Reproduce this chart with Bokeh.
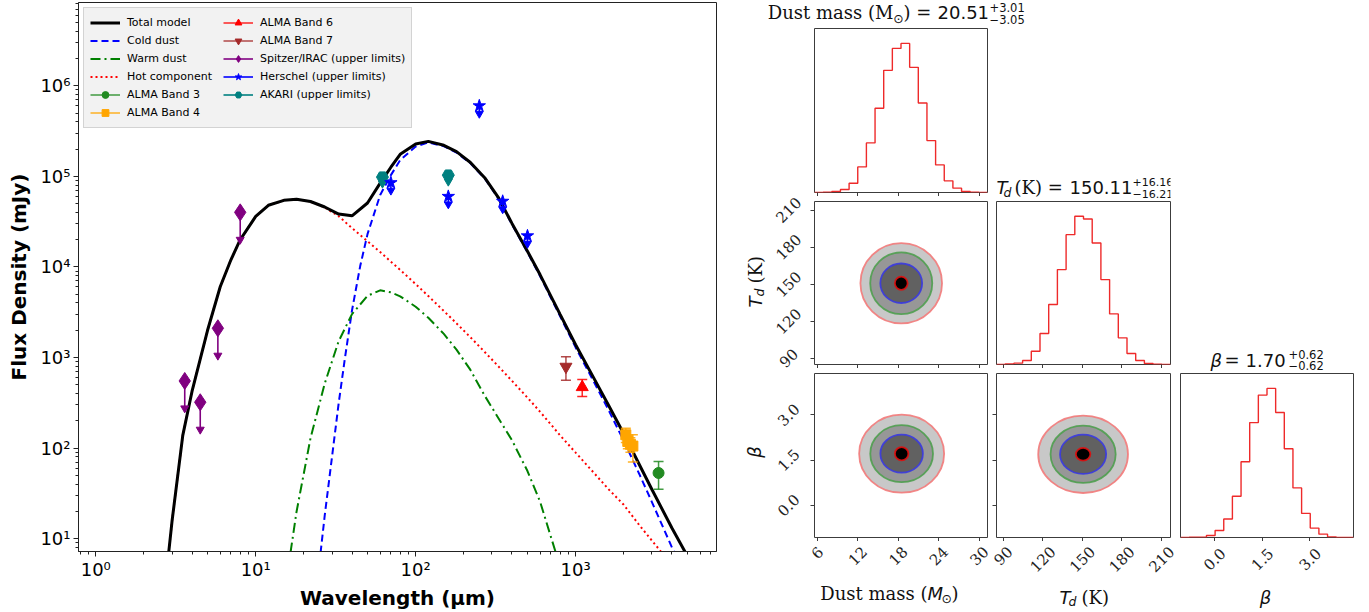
import math
import numpy as np
from bokeh.plotting import figure
from bokeh.models import (Range1d, FixedTicker, CustomJSTickFormatter, Legend, LegendItem,
                          Label, LabelSet, ColumnDataSource)
from bokeh.layouts import row, column
from bokeh.embed import file_html
from bokeh.resources import INLINE
from bokeh.core.properties import value

# ---------------- SED model curves ----------------
model_wavelength = [2.8, 3, 3.5, 4, 5, 6, 7, 8, 10, 12, 15, 18, 22, 27, 33, 40, 50, 60, 70, 80,
                    100, 120, 150, 180, 220, 270, 330, 400, 500, 600, 800, 1000, 1300, 1600,
                    2000, 2500, 3000, 4000, 5000]
total_model = [5.0, 15.7, 138, 424, 1995, 6030, 11970, 19950, 36100, 47900, 54300, 55900, 52700,
               45800, 38300, 36600, 50700, 84100, 126000, 175000, 227000, 243000, 220000, 187000,
               142000, 96600, 57700, 30200, 14900, 8170, 2990, 1380, 591, 301, 144, 65.8, 34.8,
               13.1, 6.4]

cold_wavelength = [25, 27, 30, 33, 36, 40, 45, 50, 60, 70, 80, 100, 120, 150, 180, 220, 270, 330,
                   400, 500, 600, 800, 1000, 1300, 1600, 2000, 2500, 3000, 4000, 5000]
cold_dust = [5.3, 17.9, 80, 310, 942, 3310, 10200, 23000, 62200, 103000, 151000, 213000, 237000,
             215000, 183000, 139500, 94900, 56600, 29470, 14460, 7890, 2850, 1290, 538, 266, 120,
             51.7, 25.3, 8.0, 3.4]

warm_wavelength = [16.5, 18, 22, 27, 33, 40, 50, 60, 70, 80, 100, 120, 150, 180, 220, 270, 330,
                   400, 500, 600, 700, 800]
warm_dust = [7.0, 19.8, 128, 514, 1510, 3010, 4790, 5510, 5240, 4730, 3630, 2740, 1820, 1220, 728,
             379, 212, 122, 55.7, 25.5, 10.5, 4.9]

hot_wavelength = [2.8, 3, 3.5, 4, 5, 6, 7, 8, 10, 12, 15, 18, 22, 27, 33, 40, 50, 60, 70, 80,
                  100, 120, 150, 180, 220, 270, 330, 400, 500, 600, 800, 1000, 1300, 1600, 2000,
                  2500, 3000, 4000]
hot_component = [5.0, 15.7, 138, 424, 1995, 6030, 11970, 19950, 36100, 47900, 54300, 55900, 52700,
                 45200, 36300, 26800, 19200, 14600, 11400, 9270, 6460, 4760, 3260, 2380, 1670,
                 1150, 793, 552, 360, 251, 138, 89, 53.3, 35.3, 23.6, 14.1, 9.5, 5.1]

# ---------------- photometry ----------------
alma_b3_wl = [3300]
alma_b3_flux = [53]
alma_b3_err = [18]
alma_b4_wl = [2060, 2120, 2200, 2280]
alma_b4_flux = [140, 118, 110, 105]
alma_b4_err = [25, 20, 20, 35]
alma_b6_wl = [1100]
alma_b6_flux = [470]
alma_b6_err = [100]
alma_b7_wl = [870]
alma_b7_flux = [790]
alma_b7_err = [230]
spitzer_wl = [3.6, 4.5, 5.8, 8.0]
spitzer_flux = [550, 320, 2100, 40000]
herschel_wl = [70, 160, 250, 350, 500]
herschel_flux = [85000, 60000, 600000, 53000, 22000]
akari_wl = [62, 160]
akari_flux = [98000, 103000]

# ---------------- corner plot data ----------------
mass_range = [5.6, 31.25]
td_range = [84.9, 216.9]
beta_range = [-1.07, 4.37]
mass_counts = [0, 1, 3, 9, 28, 77, 149, 253, 367, 433, 448, 376, 269, 156, 83, 35, 13, 3, 1, 0]
td_counts = [0, 2, 4, 12, 40, 93, 180, 285, 390, 445, 437, 365, 255, 152, 80, 33, 12, 3, 1, 0]
beta_counts = [0, 1, 1, 6, 21, 55, 123, 226, 343, 425, 445, 373, 265, 148, 72, 28, 10, 2, 0, 0]
mass_ticks = [6, 12, 18, 24, 30]
td_ticks = [90, 120, 150, 180, 210]
beta_ticks = [0.0, 1.5, 3.0]
mass_tick_labels = ["6", "12", "18", "24", "30"]
td_tick_labels = ["90", "120", "150", "180", "210"]
beta_tick_labels = ["0.0", "1.5", "3.0"]

mass_td_center = [18.46, 150.7]
mass_td_widths = [12.1, 9.2, 6.2, 1.9]
mass_td_heights = [65, 50, 32, 10.7]
mass_beta_center = [18.52, 1.71]
mass_beta_widths = [12.6, 9.3, 6.3, 2.0]
mass_beta_heights = [2.59, 1.89, 1.26, 0.44]
td_beta_center = [150.6, 1.69]
td_beta_widths = [68.1, 49.4, 35.0, 11.0]
td_beta_heights = [2.57, 1.90, 1.30, 0.42]
level_fill = ["#c8c8c8", "#979797", "#616161", "#000000"]
level_line = ["#f27a7a", "#4f9f4f", "#3a3ae0", "#e01010"]

# ======================= SED figure =======================
p = figure(width=725, height=612, x_axis_type="log", y_axis_type="log",
           x_range=Range1d(0.78, 7600), y_range=Range1d(7.2, 8.3e6),
           output_backend="svg", toolbar_location=None,
           min_border_left=78, min_border_right=9, min_border_top=2, min_border_bottom=57)
p.grid.visible = False
p.outline_line_color = "#222222"
p.background_fill_color = "white"
p.border_fill_color = "white"

sup_fmt = CustomJSTickFormatter(code="""
const sup = {"0":"\u2070","1":"\u00b9","2":"\u00b2","3":"\u00b3","4":"\u2074","5":"\u2075","6":"\u2076","7":"\u2077","8":"\u2078","9":"\u2079","-":"\u207b"};
const e = Math.round(Math.log10(tick));
return "10" + String(e).split("").map(c => sup[c]).join("");
""")
x_major = [1, 10, 100, 1000]
x_minor = [k * 10.0 ** d for d in range(-1, 4) for k in range(2, 10) if 0.78 < k * 10.0 ** d < 7600]
y_major = [10, 100, 1000, 1e4, 1e5, 1e6]
y_minor = [k * 10.0 ** d for d in range(0, 7) for k in range(2, 10) if 7.2 < k * 10.0 ** d < 8.3e6]
p.xaxis.ticker = FixedTicker(ticks=x_major, minor_ticks=x_minor)
p.yaxis.ticker = FixedTicker(ticks=y_major, minor_ticks=y_minor)
for ax in p.axis:
    ax.formatter = sup_fmt
    ax.major_label_text_font = "DejaVu Sans"
    ax.major_label_text_font_size = "18px"
    ax.major_label_text_color = "black"
    ax.axis_label_text_font = "DejaVu Sans"
    ax.axis_label_text_font_size = "20px"
    ax.axis_label_text_font_style = "bold"
    ax.axis_label_text_color = "black"
    ax.major_tick_in = 0
    ax.major_tick_out = 5
    ax.minor_tick_in = 0
    ax.minor_tick_out = 3
    ax.axis_line_color = "#222222"
    ax.major_tick_line_color = "#222222"
    ax.minor_tick_line_color = "#222222"
p.xaxis.axis_label = "Wavelength (µm)"
p.yaxis.axis_label = "Flux Density (mJy)"
p.xaxis.major_label_standoff = 2
p.xaxis.axis_label_standoff = 3
p.yaxis.major_label_standoff = 3
p.yaxis.axis_label_standoff = 6

r_cold = p.line(cold_wavelength, cold_dust, line_color="#0000ff", line_width=2, line_dash="7 4")
r_warm = p.line(warm_wavelength, warm_dust, line_color="#008000", line_width=2, line_dash="10 4 2 4")
r_hot = p.line(hot_wavelength, hot_component, line_color="#ff0000", line_width=2, line_dash="2 3")
r_total = p.line(model_wavelength, total_model, line_color="black", line_width=3)


def errorbars(wl, fl, er, color):
    lo = [a - b for a, b in zip(fl, er)]
    hi = [a + b for a, b in zip(fl, er)]
    seg = p.segment(x0=wl, y0=lo, x1=wl, y1=hi, line_color=color, line_width=1.5, line_alpha=0.85)
    p.scatter(x=wl + wl, y=lo + hi, marker="dash", size=10, line_color=color, line_width=1.5,
              line_alpha=0.85)
    return seg


def upper_limits(wl, fl, frac, color):
    lo = [v * frac for v in fl]
    seg = p.segment(x0=wl, y0=fl, x1=wl, y1=lo, line_color=color, line_width=1.6)
    p.scatter(x=wl, y=lo, marker="inverted_triangle", size=8, fill_color=color, line_color=color)
    return seg


e_b3 = errorbars(alma_b3_wl, alma_b3_flux, alma_b3_err, "#228b22")
e_b4 = errorbars(alma_b4_wl, alma_b4_flux, alma_b4_err, "#ffa500")
e_b6 = errorbars(alma_b6_wl, alma_b6_flux, alma_b6_err, "#ff0000")
e_b7 = errorbars(alma_b7_wl, alma_b7_flux, alma_b7_err, "#a52a2a")
u_sp = upper_limits(spitzer_wl, spitzer_flux, 0.5, "#800080")
u_he = upper_limits(herschel_wl, herschel_flux, 0.82, "#0000ff")
u_ak = upper_limits(akari_wl, akari_flux, 0.85, "#008080")

m_b3 = p.scatter(alma_b3_wl, alma_b3_flux, marker="circle", size=11, color="#228b22")
m_b4 = p.scatter(alma_b4_wl, alma_b4_flux, marker="square", size=10, color="#ffa500")
m_b6 = p.scatter(alma_b6_wl, alma_b6_flux, marker="triangle", size=12, color="#ff0000")
m_b7 = p.scatter(alma_b7_wl, alma_b7_flux, marker="inverted_triangle", size=12, color="#a52a2a")
m_sp = p.scatter(spitzer_wl, spitzer_flux, marker="diamond", size=17, color="#800080")
m_ak = p.scatter(akari_wl, akari_flux, marker="hex", size=12, color="#008080")
m_he = p.scatter(herschel_wl, herschel_flux, marker="star", size=13, color="#0000ff")

legend = Legend(items=[
    LegendItem(label="Total model", renderers=[r_total]),
    LegendItem(label="Cold dust", renderers=[r_cold]),
    LegendItem(label="Warm dust", renderers=[r_warm]),
    LegendItem(label="Hot component", renderers=[r_hot]),
    LegendItem(label="ALMA Band 3", renderers=[e_b3, m_b3]),
    LegendItem(label="ALMA Band 4", renderers=[e_b4, m_b4]),
    LegendItem(label="ALMA Band 6", renderers=[e_b6, m_b6]),
    LegendItem(label="ALMA Band 7", renderers=[e_b7, m_b7]),
    LegendItem(label="Spitzer/IRAC (upper limits)", renderers=[u_sp, m_sp]),
    LegendItem(label="Herschel (upper limits)", renderers=[u_he, m_he]),
    LegendItem(label="AKARI (upper limits)", renderers=[u_ak, m_ak]),
], ncols=2, location="top_left", margin=5, padding=6, spacing=1,
    glyph_height=17, glyph_width=30, label_height=17, label_standoff=7, label_width=95,
    label_text_font="DejaVu Sans", label_text_font_size="11px", label_text_color="black",
    background_fill_color="#f2f2f2", background_fill_alpha=1.0,
    border_line_color="#b4b4b4", border_line_width=1)
p.add_layout(legend)

# ======================= corner plot =======================
FRAME = "#3c3c3c"
X0 = 725                      # left edge of the corner block (canvas px)
COLS = [(814, 987), (996, 1170), (1180, 1353)]     # panel frames, x
ROWS = [(28, 192), (201, 364), (373, 537)]         # panel frames, y (top, bottom)
SCRIPT = "11.5px"


def panel(xr, yr, w, h, bl, br, bt, bb, xticks=None, yticks=None):
    f = figure(width=w, height=h, x_range=Range1d(xr[0], xr[1]), y_range=Range1d(yr[0], yr[1]),
               output_backend="svg", toolbar_location=None,
               x_axis_location="below" if xticks is not None else None,
               y_axis_location="left" if yticks is not None else None,
               min_border_left=bl, min_border_right=br, min_border_top=bt, min_border_bottom=bb)
    f.grid.visible = False
    f.outline_line_color = FRAME
    f.outline_line_width = 1
    f.background_fill_color = "white"
    f.border_fill_color = "white"
    if xticks is not None:
        f.xaxis.ticker = FixedTicker(ticks=xticks, minor_ticks=[])
    if yticks is not None:
        f.yaxis.ticker = FixedTicker(ticks=yticks, minor_ticks=[])
    for ax in f.axis:
        ax.axis_line_color = None
        ax.major_tick_in = 0
        ax.major_tick_out = 4
        ax.major_tick_line_color = FRAME
        ax.minor_tick_line_color = None
        ax.major_label_text_font_size = "0px"
        ax.major_label_text_alpha = 0
        ax.major_label_text_color = None
        ax.major_label_standoff = 0
    return f


def strip(w, h):
    f = figure(width=w, height=h, x_range=Range1d(0, w), y_range=Range1d(0, h),
               output_backend="svg", toolbar_location=None,
               x_axis_location=None, y_axis_location=None,
               min_border_left=0, min_border_right=0, min_border_top=0, min_border_bottom=0)
    f.grid.visible = False
    f.outline_line_color = None
    f.background_fill_color = "white"
    f.border_fill_color = "white"
    return f


def matched_range(lo, hi, f_lo, f_hi, c_lo, c_hi):
    s = (hi - lo) / (f_hi - f_lo)
    return Range1d(lo + (c_lo - f_lo) * s, lo + (c_hi - f_lo) * s)


def txt(fig, x, y, s, font="DejaVu Serif", size="18px", style="normal", align="left", angle=0.0):
    fig.add_layout(Label(x=x, y=y, x_units="screen", y_units="screen", text=s,
                         text_font=font, text_font_size=size, text_font_style=style,
                         text_align=align, text_baseline="middle", angle=angle,
                         text_color="#111111"))


def hist(fig, rng, counts):
    edges = np.linspace(rng[0], rng[1], len(counts) + 1)
    fig.step(x=list(edges), y=list(counts) + [counts[-1]], mode="after",
             line_color="#ee2a2a", line_width=1.4)


def contours(fig, center, widths, heights):
    n = len(widths)
    fig.ellipse(x=[center[0]] * n, y=[center[1]] * n, width=widths, height=heights,
                fill_color=level_fill, line_color=level_line, line_width=1.8, line_alpha=0.9)


# ---- panels ----
p11 = panel(mass_range, [0, 1.1 * max(mass_counts)], 180, 170, 4, 3, 2, 4, xticks=mass_ticks)
hist(p11, mass_range, mass_counts)
p21 = panel(mass_range, td_range, 180, 172, 4, 3, 5, 4, xticks=mass_ticks, yticks=td_ticks)
contours(p21, mass_td_center, mass_td_widths, mass_td_heights)
p31 = panel(mass_range, beta_range, 180, 173, 4, 3, 5, 4, xticks=mass_ticks, yticks=beta_ticks)
contours(p31, mass_beta_center, mass_beta_widths, mass_beta_heights)

p22 = panel(td_range, [0, 1.1 * max(td_counts)], 185, 169, 6, 5, 2, 4, xticks=td_ticks)
hist(p22, td_range, td_counts)
p32 = panel(td_range, beta_range, 185, 173, 6, 5, 5, 4, xticks=td_ticks, yticks=beta_ticks)
contours(p32, td_beta_center, td_beta_widths, td_beta_heights)

p33 = panel(beta_range, [0, 1.1 * max(beta_counts)], 194, 170, 5, 16, 2, 4, xticks=beta_ticks)
hist(p33, beta_range, beta_counts)

# ---- text strips ----
t1 = strip(644, 26)                    # canvas x 725..1369, y 0..26
t2 = strip(185, 173)                   # canvas x 990..1175, y 26..199
t3 = strip(194, 345)                   # canvas x 1175..1369, y 26..371
left = strip(85, 515)                  # canvas x 725..810, y 26..541
bottom = strip(644, 71)                # canvas x 725..1369, y 541..612

# title 1
txt(t1, 168, 14, "Dust mass (M", align="right")
txt(t1, 173, 8.5, "⊙", font="DejaVu Sans", size="12.5px", align="center")
txt(t1, 178, 14, ") =")
txt(t1, 212, 14, "20.51", font="DejaVu Sans")
txt(t1, 264, 19.5, "+3.01", font="DejaVu Sans", size=SCRIPT)
txt(t1, 264, 7, "−3.05", font="DejaVu Sans", size=SCRIPT)
# title 2
txt(t2, 0, 12.3, "T", font="DejaVu Sans", style="italic")
txt(t2, 7, 7, "d", font="DejaVu Sans", size="12.5px", style="italic")
txt(t2, 18, 12.3, "(K) =")
txt(t2, 73, 12.3, "150.11", font="DejaVu Sans")
txt(t2, 136, 17.5, "+16.16", font="DejaVu Sans", size="11px")
txt(t2, 136, 6, "−16.21", font="DejaVu Sans", size="11px")
# title 3
txt(t3, 30, 11, "β", font="DejaVu Sans", style="italic")
txt(t3, 44, 11, "=")
txt(t3, 65, 11, "1.70", font="DejaVu Sans")
txt(t3, 108, 17, "+0.62", font="DejaVu Sans", size=SCRIPT)
txt(t3, 108, 6.5, "−0.62", font="DejaVu Sans", size=SCRIPT)

# x tick labels (bottom strip shares the scales of the panels above it)
bottom.extra_x_ranges = {
    "mass": matched_range(mass_range[0], mass_range[1], COLS[0][0], COLS[0][1], X0, 1369),
    "td": matched_range(td_range[0], td_range[1], COLS[1][0], COLS[1][1], X0, 1369),
    "beta": matched_range(beta_range[0], beta_range[1], COLS[2][0], COLS[2][1], X0, 1369),
}
for name, ticks, labels in [("mass", mass_ticks, mass_tick_labels), ("td", td_ticks, td_tick_labels),
                            ("beta", beta_ticks, beta_tick_labels)]:
    offs = [(612 - ROWS[2][1]) - (8 + 0.707 * (len(s) * 9.3 + 11) / 2) for s in labels]
    src = ColumnDataSource(dict(x=ticks, y=offs, t=labels))
    bottom.add_layout(LabelSet(x="x", y="y", text="t", source=src, x_units="data", y_units="screen",
                               x_range_name=name, angle=math.pi / 4, text_align="center",
                               text_baseline="middle", text_font=value("DejaVu Serif"),
                               text_font_size="15px", text_color="#222222"))
# x axis labels
txt(bottom, 202, 18.7, "Dust mass (", align="right")
txt(bottom, 202, 18.7, "M", font="DejaVu Sans", style="italic")
txt(bottom, 216, 14, "⊙", font="DejaVu Sans", size="12.5px")
txt(bottom, 226, 18.7, ")")
txt(bottom, 334, 15.4, "T", font="DejaVu Sans", style="italic")
txt(bottom, 343, 11, "d", font="DejaVu Sans", size="12.5px", style="italic")
txt(bottom, 356, 15.4, "(K)")
txt(bottom, 540, 15.4, "β", font="DejaVu Sans", style="italic", align="center")

# y tick labels (left strip shares the vertical scales of rows 2 and 3)
left.extra_y_ranges = {
    "td": matched_range(td_range[0], td_range[1], -ROWS[1][1], -ROWS[1][0], -541, -26),
    "beta": matched_range(beta_range[0], beta_range[1], -ROWS[2][1], -ROWS[2][0], -541, -26),
}
for name, ticks, labels in [("td", td_ticks, td_tick_labels), ("beta", beta_ticks, beta_tick_labels)]:
    src = ColumnDataSource(dict(x=[63] * len(ticks), y=ticks, t=labels))
    left.add_layout(LabelSet(x="x", y="y", text="t", source=src, x_units="screen", y_units="data",
                             y_range_name=name, angle=math.pi / 4, text_align="center",
                             text_baseline="middle", text_font=value("DejaVu Serif"),
                             text_font_size="15px", text_color="#222222"))
# y axis labels
txt(left, 30, 234, "T", font="DejaVu Sans", style="italic", angle=math.pi / 2)
txt(left, 34, 245, "d", font="DejaVu Sans", size="12.5px", style="italic", angle=math.pi / 2)
txt(left, 30, 258, "(K)", angle=math.pi / 2)
txt(left, 29, 89.5, "β", font="DejaVu Sans", style="italic", align="center", angle=math.pi / 2)

mid = row(left, column(p11, p21, p31), column(t2, p22, p32), column(t3, p33))
right_block = column(t1, mid, bottom)
layout = row(p, right_block)
open("out.html", "w").write(file_html(layout, INLINE))
